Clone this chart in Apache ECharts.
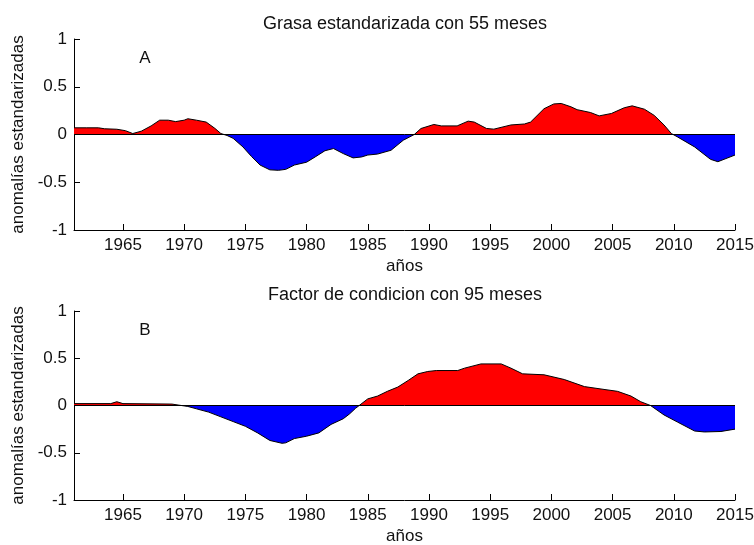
<!DOCTYPE html>
<html>
<head>
<meta charset="utf-8">
<script src="https://cdn.jsdelivr.net/npm/echarts@6/dist/echarts.min.js"></script>
<style>
html,body{margin:0;padding:0;background:#fff;}
#chart{width:754px;height:545px;}
</style>
</head>
<body>
<div id="chart"></div>
<script>
// ---- data ----
var xTicks = [1965, 1970, 1975, 1980, 1985, 1990, 1995, 2000, 2005, 2010, 2015];
var yTicks = [-1, -0.5, 0, 0.5, 1];

var yearsA = [1961.0, 1962.0, 1963.0, 1963.5, 1964.5, 1965.2, 1965.8, 1966.5, 1967.3, 1968.0,
  1968.7, 1969.3, 1970.0, 1970.3, 1971.0, 1971.8, 1972.5, 1973.0, 1973.5, 1974.0,
  1974.8, 1975.5, 1976.2, 1977.0, 1977.7, 1978.3, 1979.0, 1980.0, 1980.7, 1981.5,
  1982.2, 1983.0, 1983.8, 1984.5, 1985.0, 1985.8, 1986.9, 1987.9, 1988.8, 1989.35,
  1990.4, 1991.0, 1992.3, 1993.2, 1993.7, 1994.7, 1995.3, 1996.7, 1997.8, 1998.3,
  1999.4, 2000.2, 2000.8, 2001.6, 2002.1, 2003.2, 2003.9, 2004.9, 2005.95, 2006.6,
  2007.6, 2008.4, 2009.2, 2009.8, 2010.3, 2011.7, 2013.0, 2013.6, 2014.1, 2015.0];
var valuesA = [0.07, 0.07, 0.07, 0.06, 0.055, 0.04, 0.01, 0.035, 0.09, 0.15,
  0.15, 0.135, 0.15, 0.165, 0.15, 0.13, 0.065, 0.01, -0.01, -0.04,
  -0.13, -0.23, -0.32, -0.37, -0.375, -0.365, -0.32, -0.29, -0.235, -0.17,
  -0.147, -0.2, -0.245, -0.235, -0.215, -0.205, -0.165, -0.06, 0.0, 0.063,
  0.105, 0.09, 0.09, 0.14, 0.13, 0.063, 0.056, 0.1, 0.11, 0.13,
  0.27, 0.32, 0.325, 0.29, 0.26, 0.23, 0.195, 0.22, 0.28, 0.3,
  0.265, 0.2, 0.1, 0.01, -0.025, -0.13, -0.26, -0.285, -0.26, -0.215];

var yearsB = [1961.0, 1964.0, 1964.5, 1965.0, 1969.0, 1969.5, 1970.3, 1971.0, 1972.0, 1973.0,
  1974.0, 1975.0, 1976.0, 1977.0, 1978.0, 1978.3, 1979.0, 1980.0, 1981.0, 1982.0,
  1983.0, 1983.5, 1984.0, 1984.3, 1985.0, 1985.8, 1986.6, 1987.45, 1988.3, 1989.1,
  1989.9, 1990.6, 1992.35, 1992.9, 1994.25, 1995.9, 1996.7, 1997.65, 1999.4, 2001.05,
  2002.7, 2004.3, 2005.4, 2006.5, 2007.3, 2008.1, 2009.2, 2010.3, 2011.7, 2012.5,
  2013.85, 2015.0];
var valuesB = [0.02, 0.02, 0.04, 0.02, 0.015, 0.005, -0.01, -0.035, -0.07, -0.12,
  -0.17, -0.22, -0.29, -0.37, -0.4, -0.395, -0.35, -0.325, -0.29, -0.2,
  -0.14, -0.09, -0.03, 0.0, 0.07, 0.1, 0.15, 0.195, 0.265, 0.335,
  0.36, 0.37, 0.37, 0.395, 0.44, 0.44, 0.395, 0.335, 0.325, 0.275,
  0.2, 0.17, 0.15, 0.1, 0.04, 0.0, -0.1, -0.175, -0.27, -0.28,
  -0.275, -0.25];

var titleA = 'Grasa estandarizada con 55 meses';
var titleB = 'Factor de condicion con 95 meses';
var xName = 'años';
var yName = 'anomalías estandarizadas';

// ---- build ----
function pairs(xs, ys) { return xs.map(function (x, i) { return [x, ys[i]]; }); }
var dataA = pairs(yearsA, valuesA);
var dataB = pairs(yearsB, valuesB);

var FONT = 'Liberation Sans, Arial, sans-serif';
var FS = 17;
var TXT = '#111';
var grids = [
  { left: 74, right: 19, top: 39, height: 191, containLabel: false, outerBoundsMode: 'none' },
  { left: 74, right: 19, top: 311, height: 189, containLabel: false, outerBoundsMode: 'none' }
];

function xAxisCfg(gi) {
  return {
    type: 'value', gridIndex: gi, min: 1961, max: 2015,
    name: xName, nameLocation: 'middle', nameGap: 28,
    nameTextStyle: { fontFamily: FONT, fontSize: FS, color: TXT },
    axisLine: { show: true, onZero: false, lineStyle: { color: '#000', width: 1 } },
    axisTick: { show: true, inside: true, length: 6, customValues: xTicks, lineStyle: { color: '#000' } },
    axisLabel: { customValues: xTicks, margin: 7, fontFamily: FONT, fontSize: FS, color: TXT,
      formatter: function (v) { return String(v); } },
    splitLine: { show: false }
  };
}
function yAxisCfg(gi) {
  return {
    type: 'value', gridIndex: gi, min: -1, max: 1,
    name: yName, nameLocation: 'middle', nameGap: 47, nameRotate: 90,
    nameTextStyle: { fontFamily: FONT, fontSize: FS, color: TXT },
    axisLine: { show: true, lineStyle: { color: '#000', width: 1 } },
    axisTick: { show: true, inside: true, length: 6, customValues: yTicks, lineStyle: { color: '#000' } },
    axisLabel: { customValues: yTicks, margin: 7, fontFamily: FONT, fontSize: FS, color: TXT,
      formatter: function (v) { return String(v); } },
    splitLine: { show: false }
  };
}
function areaSeries(gi, data) {
  var g = grids[gi];
  // global gradient: red above the zero level (middle of the -1..1 axis), blue below
  return {
    type: 'line', xAxisIndex: gi, yAxisIndex: gi, data: data,
    showSymbol: false, symbol: 'none', silent: true,
    lineStyle: { width: 0, opacity: 0 },
    areaStyle: {
      opacity: 1,
      color: { type: 'linear', global: true, x: 0, y: g.top, x2: 0, y2: g.top + g.height,
        colorStops: [
          { offset: 0, color: '#ff0000' }, { offset: 0.5, color: '#ff0000' },
          { offset: 0.5, color: '#0000ff' }, { offset: 1, color: '#0000ff' }
        ] }
    },
    z: 2
  };
}
function outlineSeries(gi, data) {
  return {
    type: 'line', xAxisIndex: gi, yAxisIndex: gi, data: data,
    showSymbol: false, symbol: 'none', silent: true,
    lineStyle: { color: '#000', width: 1 },
    markLine: {
      silent: true, symbol: ['none', 'none'], label: { show: false },
      lineStyle: { color: '#000', width: 1, type: 'solid' },
      data: [{ yAxis: 0 }]
    },
    z: 3
  };
}

var chart = echarts.init(document.getElementById('chart'), null, { renderer: 'canvas' });
var ts = { fontFamily: FONT, fontSize: FS, fontWeight: 'normal', color: TXT };
var tsT = { fontFamily: FONT, fontSize: 18, fontWeight: 'normal', color: TXT };
chart.setOption({
  animation: false,
  backgroundColor: '#fff',
  title: [
    { text: titleA, left: 400, top: 10, textAlign: 'center', textStyle: tsT },
    { text: titleB, left: 400, top: 281, textAlign: 'center', textStyle: tsT },
    { text: 'A', left: 140, top: 45, textAlign: 'center', textStyle: ts },
    { text: 'B', left: 140, top: 317, textAlign: 'center', textStyle: ts }
  ],
  grid: grids,
  xAxis: [xAxisCfg(0), xAxisCfg(1)],
  yAxis: [yAxisCfg(0), yAxisCfg(1)],
  series: [
    areaSeries(0, dataA), outlineSeries(0, dataA),
    areaSeries(1, dataB), outlineSeries(1, dataB)
  ]
});
</script>
</body>
</html>
